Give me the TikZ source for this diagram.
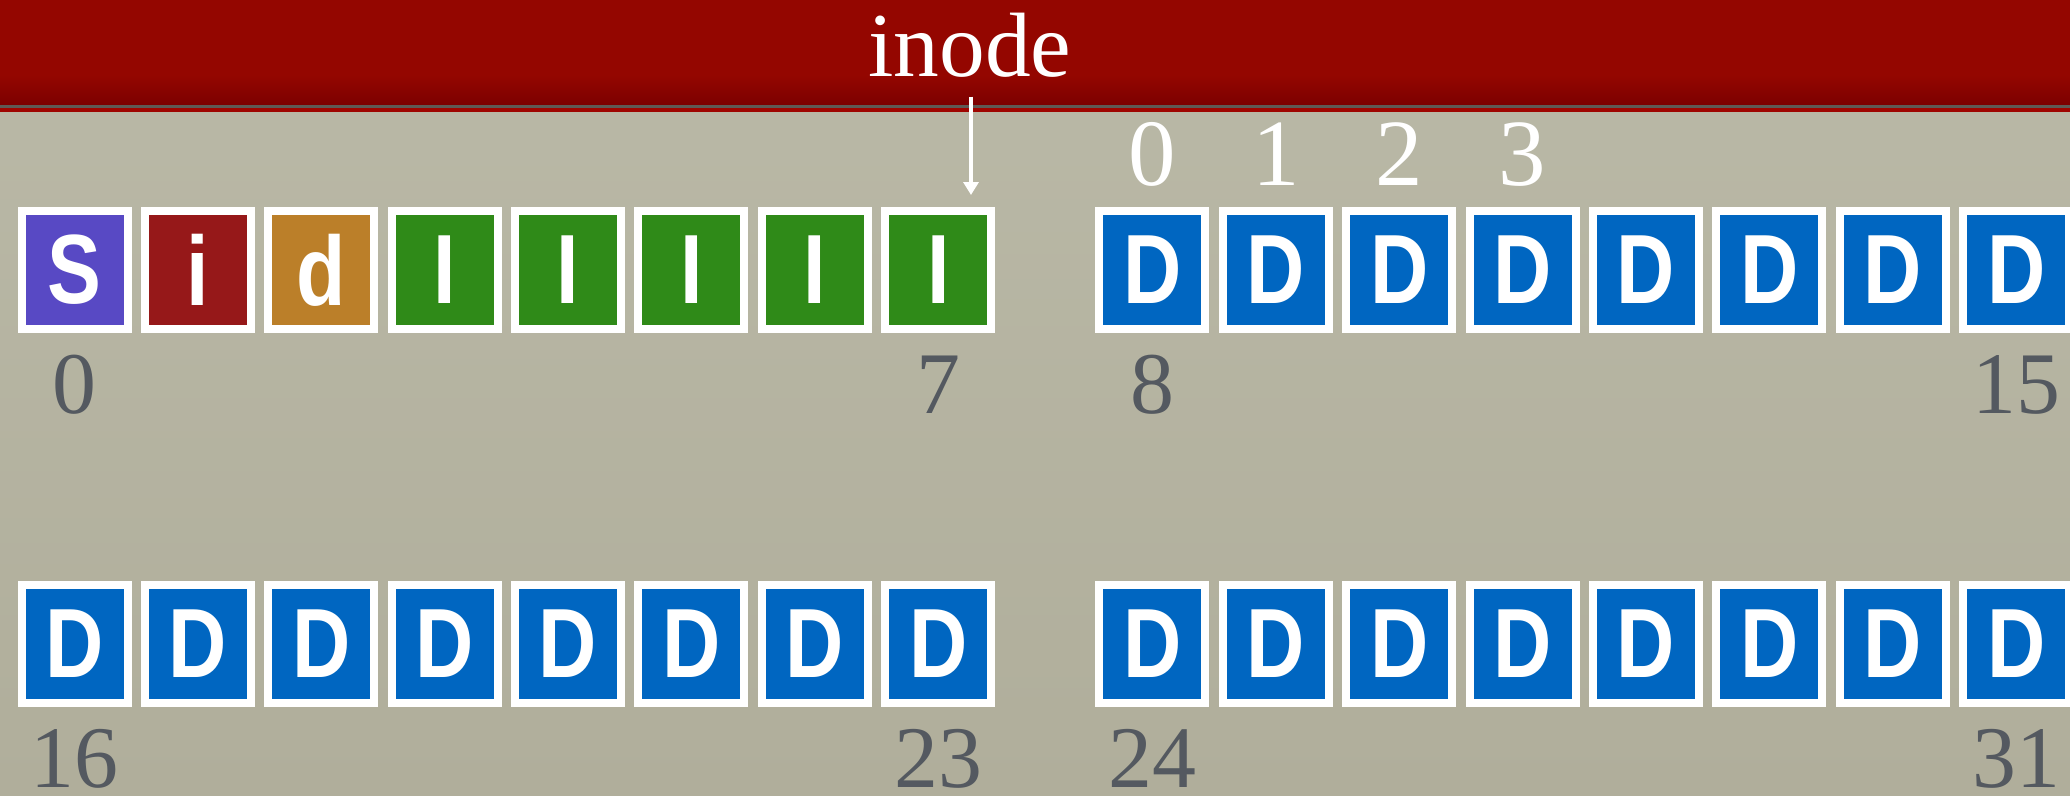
\documentclass[tikz,border=0pt]{standalone}
\usepackage{fontspec}
\setmainfont{Liberation Serif}
\newfontfamily\cellfont[FakeStretch=0.82]{Liberation Sans}
\usetikzlibrary{arrows.meta,positioning}
\definecolor{barred}{HTML}{940600}
\definecolor{bardark}{HTML}{7C0000}
\definecolor{barline}{HTML}{5E5A55}
\definecolor{bgtop}{HTML}{BAB9A7}
\definecolor{bgbot}{HTML}{B0AE9B}
\definecolor{cpurple}{HTML}{5849C4}
\definecolor{cred}{HTML}{961819}
\definecolor{cochre}{HTML}{BB7F29}
\definecolor{cgreen}{HTML}{2F8A18}
\definecolor{cblue}{HTML}{0066C1}
\definecolor{numgray}{HTML}{545960}
\tikzset{
  cell/.style  = {draw=white, line width=0.8mm, minimum width=10.6mm, minimum height=11.8mm,
                  inner sep=0pt, text=white, font=\cellfont\bfseries\fontsize{28pt}{28pt}\selectfont},
  dcell/.style = {cell, fill=cblue},
  num/.style   = {font=\fontsize{25pt}{25pt}\selectfont, text=numgray, inner sep=0pt, anchor=base},
  idx/.style   = {font=\fontsize{27pt}{27pt}\selectfont, text=white, inner sep=0pt, anchor=base},
  ar/.style    = {-{Triangle[length=1.3mm, width=1.5mm]}, draw=white, line width=0.4mm},
}

\begin{document}
\begin{tikzpicture}[x=0.1mm, y=-0.1mm, node distance=0.94mm]
  \useasboundingbox (0,0) rectangle (2070,796);
  % background and title bar
  \shade[top color=bgtop, bottom color=bgbot] (0,0) rectangle (2070,796);
  \fill[barred] (0,0) rectangle (2070,105);
  \shade[top color=barred, bottom color=bardark] (0,75) rectangle (2070,105);
  \fill[barline] (0,105) rectangle (2070,108);
  \fill[barred!90!red] (0,108) rectangle (2070,112);

  % first group: S i d and the inode blocks
  \node[cell, fill=cpurple] (b0) at (74.5,270) {S};
  \node[cell, fill=cred, right=of b0] (b1) {i};
  \node[cell, fill=cochre, right=of b1] (b2) {d};
  \foreach \i [remember=\i as \j (initially 2)] in {3,...,7}
    \node[cell, fill=cgreen, right=of b\j] (b\i) {I};

  % data blocks
  \node[dcell, right=10.02mm of b7] (b8) {D};
  \foreach \i [remember=\i as \j (initially 8)] in {9,...,15}
    \node[dcell, right=of b\j] (b\i) {D};
  \node[dcell, below=24.8mm of b0] (b16) {D};
  \foreach \i [remember=\i as \j (initially 16)] in {17,...,23}
    \node[dcell, right=of b\j] (b\i) {D};
  \node[dcell, below=24.8mm of b8] (b24) {D};
  \foreach \i [remember=\i as \j (initially 24)] in {25,...,31}
    \node[dcell, right=of b\j] (b\i) {D};

  % block numbers
  \foreach \i in {0,7,8,15,16,23,24,31}
    \node[num, yshift=-8.0mm] (n\i) at (b\i.south) {\i};
  \foreach \i [evaluate=\i as \k using int(\i+8)] in {0,...,3}
    \node[idx, yshift=2.2mm] (x\i) at (b\k.north) {\i};

  % inode pointer
  \node[font=\fontsize{26pt}{26pt}\selectfont, text=white, inner sep=0pt, anchor=base] (inode) at (970,76) {inode};
  \coordinate (tip) at (971,195);
  \draw[ar, shorten <=1.9mm] (inode.south -| tip) -- (tip);
\end{tikzpicture}
\end{document}
